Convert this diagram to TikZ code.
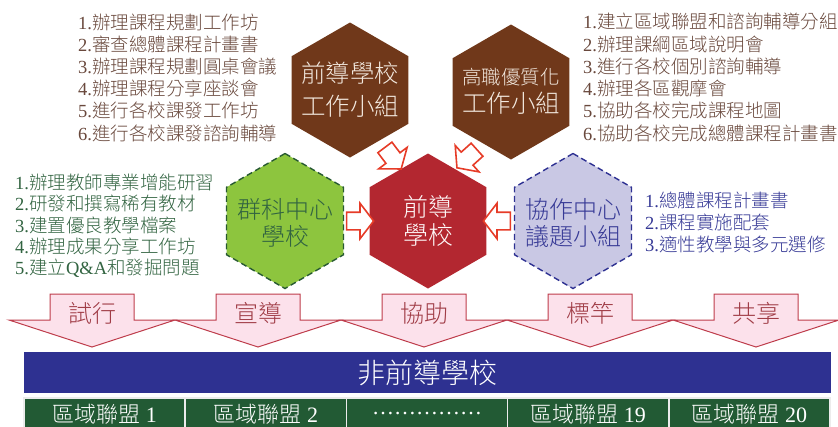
\documentclass[tikz,border=0pt]{standalone}
\usepackage{fontspec}
\setmainfont{Liberation Serif}
\newfontfamily\cjk[UprightFont={* Light}]{Noto Sans CJK TC}
\usetikzlibrary{shapes.geometric,shapes.arrows,calc}

\definecolor{hexbrown}{RGB}{112,56,26}
\definecolor{hexred}{RGB}{179,39,48}
\definecolor{hexgreen}{RGB}{141,197,62}
\definecolor{greenborder}{RGB}{40,90,50}
\definecolor{hexlav}{RGB}{201,200,228}
\definecolor{lavborder}{RGB}{46,49,146}
\definecolor{txtbrown}{RGB}{105,72,60}
\definecolor{txtgreen}{RGB}{50,100,65}
\definecolor{txtblue}{RGB}{55,58,150}
\definecolor{arrred}{RGB}{230,60,40}
\definecolor{pinkfill}{RGB}{252,225,235}
\definecolor{pinkline}{RGB}{190,60,75}
\definecolor{pinktxt}{RGB}{160,60,70}
\definecolor{navybar}{RGB}{46,49,145}
\definecolor{rowgreen}{RGB}{34,90,52}
\definecolor{hexlighttxt}{RGB}{242,232,222}

\newcommand\itm[2]{#1.{\cjk #2}}
\newcommand\fsz[2]{\fontsize{#1}{#2}\selectfont}

\begin{document}
\begin{tikzpicture}[x=1pt,y=-1pt,
  hex/.style={regular polygon, regular polygon sides=6, shape border rotate=30,
    minimum size=135pt, inner sep=0pt},
  dashborder/.style={dash pattern=on 6pt off 3.5pt, line width=1.4pt},
  hextxt/.style={inner sep=0pt, align=center},
  listtxt/.style={anchor=west, inner sep=0pt, font=\fsz{18.5}{22}},
  blockarr/.style={single arrow, single arrow head extend=9pt, single arrow tip angle=105,
    minimum height=27pt, inner xsep=0pt, inner ysep=8pt, fill=white, draw=arrred, line width=1.6pt},
  chev/.style={fill=pinkfill, draw=pinkline, line width=1pt, line join=miter},
  chevtxt/.style={inner sep=0pt, text=pinktxt, font=\cjk\fsz{24}{24}},
  cell/.style={fill=rowgreen, draw=white!85!gray, line width=1.5pt, minimum width=161.2pt,
    minimum height=32pt, inner sep=0pt, text=white, font=\fsz{22}{22}}
]
\useasboundingbox (0,0) rectangle (838,426);

% hexagons
\node[hex, fill=hexbrown] (b1) at (350,90) {};
\node[hex, fill=hexbrown] (b2) at (511,92) {};
\node[hex, fill=hexred] (r) at (428,221) {};
\node[hex, fill=hexgreen, draw=greenborder, dashborder] (g) at (285,221) {};
\node[hex, fill=hexlav, draw=lavborder, dashborder] (l) at (573,221) {};

\node[hextxt, text=hexlighttxt, font=\cjk\fsz{24.5}{33}] (b1t) at (b1.center) {前導學校\\工作小組};
\node[hextxt, text=hexlighttxt, font=\cjk\fsz{24.5}{28}] (b2t) at (511,91) {{\fsz{19.5}{28}高職優質化}\\工作小組};
\node[hextxt, text=white!92!pink, font=\cjk\fsz{25}{28}] (rt) at (r.center) {前導\\學校};
\node[hextxt, text=txtgreen, font=\cjk\fsz{24}{27}] (gt) at (285,223) {群科中心\\學校};
\node[hextxt, text=txtblue, font=\cjk\fsz{24}{27}] (lt) at (573,223) {協作中心\\議題小組};

% small block arrows
\node[blockarr] (a1) at ($(g.east)!0.5!(r.west)$) {};
\node[blockarr, rotate=180] (a2) at ($(l.west)!0.5!(r.east)$) {};
\node[blockarr, rotate=-53] (a3) at ($(b1.center)!0.5!(r.center)+(2,0)$) {};
\node[blockarr, rotate=-138] (a4) at ($(b2.center)!0.5!(r.center)$) {};

% lists
\foreach \t [count=\i] in {{\itm{1}{辦理課程規劃工作坊}},{\itm{2}{審查總體課程計畫書}},
  {\itm{3}{辦理課程規劃圓桌會議}},{\itm{4}{辦理課程分享座談會}},
  {\itm{5}{進行各校課發工作坊}},{\itm{6}{進行各校課發諮詢輔導}}}
  \node[listtxt, text=txtbrown] (la\i) at (78,{22+22.2*(\i-1)}) {\t};
\foreach \t [count=\i] in {{\itm{1}{建立區域聯盟和諮詢輔導分組}},{\itm{2}{辦理課綱區域說明會}},
  {\itm{3}{進行各校個別諮詢輔導}},{\itm{4}{辦理各區觀摩會}},
  {\itm{5}{協助各校完成課程地圖}},{\itm{6}{協助各校完成總體課程計畫書}}}
  \node[listtxt, text=txtbrown] (lb\i) at (583,{22+22.2*(\i-1)}) {\t};
\foreach \t [count=\i] in {{\itm{1}{辦理教師專業增能研習}},{\itm{2}{研發和撰寫稀有教材}},
  {\itm{3}{建置優良教學檔案}},{\itm{4}{辦理成果分享工作坊}},
  {5.{\cjk 建立}Q\&A{\cjk 和發掘問題}}}
  \node[listtxt, text=txtgreen] (lg\i) at (15,{182+21.5*(\i-1)}) {\t};
\foreach \t [count=\i] in {{\itm{1}{總體課程計畫書}},{\itm{2}{課程實施配套}},
  {\itm{3}{適性教學與多元選修}}}
  \node[listtxt, text=txtblue] (lv\i) at (645,{200+22*(\i-1)}) {\t};

% bottom chevrons
\foreach \c/\t [count=\i] in {92/試行,258/宣導,424/協助,590/標竿,756/共享}{
  \draw[chev] (\c-42,294) -- (\c+42,294) -- (\c+42,320) -- (\c+83,320) -- (\c,347)
    -- (\c-83,320) -- (\c-42,320) -- cycle;
  \node[chevtxt] (ch\i) at (\c,313) {\t};
}

% bar
\node[fill=navybar, minimum width=807pt, minimum height=41pt, inner sep=0pt,
  text=white, font=\cjk\fsz{28}{28}] (bar) at (427.5,372.5) {非前導學校};

% region row
\foreach \t [count=\i] in {{{\cjk 區域聯盟} 1},{{\cjk 區域聯盟} 2},{……………},
  {{\cjk 區域聯盟} 19},{{\cjk 區域聯盟} 20}}
  \node[cell] (rg\i) at ({24+161.2*(\i-0.5)},414) {\t};
\end{tikzpicture}
\end{document}
